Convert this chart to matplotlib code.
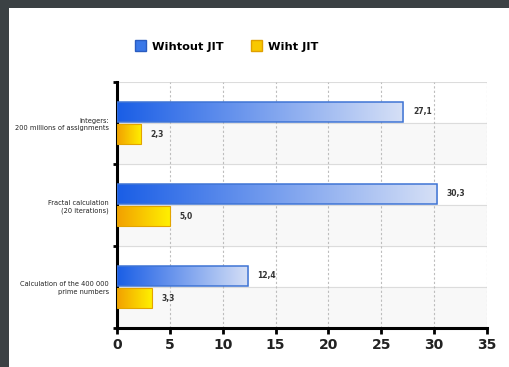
import numpy as np
import matplotlib
matplotlib.use("Agg")
import matplotlib.pyplot as plt
from matplotlib.patches import Rectangle, Patch

categories = [
    "Integers:\n200 millions of assignments",
    "Fractal calculation\n(20 iterations)",
    "Calculation of the 400 000\nprime numbers",
]
without_jit = [27.1, 30.3, 12.4]
with_jit = [2.3, 5.0, 3.3]
series_names = ["Wihtout JIT", "Wiht JIT"]
x_ticks = [0, 5, 10, 15, 20, 25, 30, 35]


def gradient_fill(ax, bars, c_left, c_right):
    """Paint a left-to-right gradient inside every bar."""
    grad = np.linspace(0, 1, 256).reshape(1, -1)
    cmap = matplotlib.colors.LinearSegmentedColormap.from_list("g", [c_left, c_right])
    for bar in bars:
        x, y = bar.get_x(), bar.get_y()
        w, h = bar.get_width(), bar.get_height()
        im = ax.imshow(grad, cmap=cmap, aspect="auto", extent=(x, x + w, y + h, y),
                       zorder=bar.get_zorder() - 0.1, interpolation="bicubic")
        im.set_clip_path(bar)


fig = plt.figure(figsize=(5.09, 3.67), dpi=100)
fig.patch.set_facecolor("#3b4144")
fig.patches.append(Rectangle((9 / 509, 0), 1, 359 / 367, transform=fig.transFigure,
                             facecolor="white", edgecolor="none", zorder=-10))

ax = fig.add_axes([117 / 509, 39 / 367, 370 / 509, 246 / 367])
ax.set_facecolor("white")

n = len(categories)
pos = np.arange(n)
h = 0.24
off = 0.135

# shaded lower half of every category band
for p in pos:
    ax.axhspan(p, p + 0.5, color="#f8f8f8", zorder=0)
    ax.axhline(p, color="#dcdcdc", lw=0.8, zorder=0.5)
for b in np.arange(-0.5, n, 1.0):
    ax.axhline(b, color="#dcdcdc", lw=0.8, zorder=0.5)

for t in x_ticks[1:]:
    ax.axvline(t, color="#bdbdbd", lw=0.8, ls=(0, (2, 2)), zorder=0.6)

b1 = ax.barh(pos - off, without_jit, height=h, facecolor="none",
             edgecolor="#3f74d4", lw=1.1, zorder=3)
b2 = ax.barh(pos + off, with_jit, height=h, facecolor="none",
             edgecolor="#e3a400", lw=0.8, zorder=3)
gradient_fill(ax, b1, "#1a5ee6", "#d6e0f6")
gradient_fill(ax, b2, "#f2a000", "#fff000")

for bar, v in zip(b1, without_jit):
    ax.text(v + 0.9, bar.get_y() + bar.get_height() / 2, f"{v:.1f}".replace(".", ","),
            va="center", ha="left", fontsize=5.5, fontweight="bold", color="#333333")
for bar, v in zip(b2, with_jit):
    ax.text(v + 0.9, bar.get_y() + bar.get_height() / 2, f"{v:.1f}".replace(".", ","),
            va="center", ha="left", fontsize=5.5, fontweight="bold", color="#333333")

ax.set_xlim(0, 35)
ax.set_ylim(n - 0.5, -0.5)
ax.set_xticks(x_ticks)
ax.set_xticklabels([str(t) for t in x_ticks], fontsize=10, fontweight="bold", color="#222222")
ax.set_yticks(pos)
ax.set_yticklabels(categories, fontsize=4.8, color="#222222", linespacing=1.3)
ax.set_yticks(np.arange(-0.5, n, 1.0), minor=True)
ax.tick_params(axis="y", which="major", length=0, pad=6)
ax.tick_params(axis="y", which="minor", length=3, width=2, color="black")
ax.tick_params(axis="x", length=4, width=2, color="black", pad=3)

for s in ["top", "right"]:
    ax.spines[s].set_visible(False)
ax.spines["left"].set_linewidth(2.2)
ax.spines["bottom"].set_linewidth(2.2)

handles = [Patch(facecolor="#3a78e8", edgecolor="#2a5cc0"),
           Patch(facecolor="#f8c800", edgecolor="#e0a000")]
fig.legend(handles, series_names, loc="center", bbox_to_anchor=(227 / 509, 1 - 46 / 367),
           ncol=2, frameon=False, prop={"size": 8.2, "weight": "bold"},
           handlelength=0.9, handleheight=1.1, columnspacing=2.4, handletextpad=0.6)

fig.savefig("out.png", dpi=100, facecolor=fig.get_facecolor())
